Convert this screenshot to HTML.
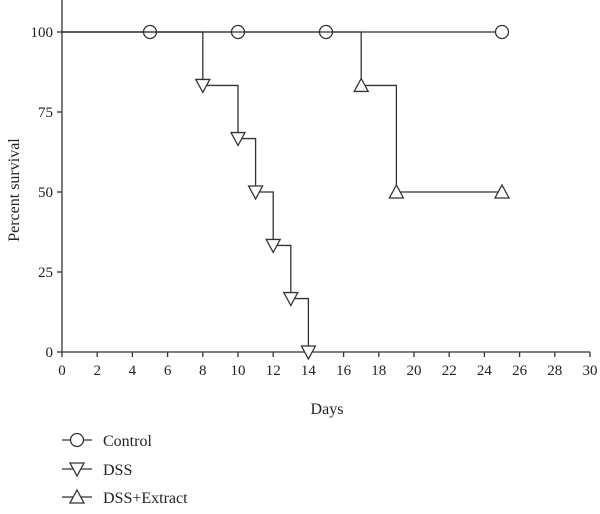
<!DOCTYPE html>
<html><head><meta charset="utf-8"><style>
body{margin:0;background:#fff}
svg text{font-family:"Liberation Serif",serif;fill:#222}
</style></head><body>
<svg width="600" height="509" viewBox="0 0 600 509">
<g id="axes"></g>
<g id="series"></g>
<g id="legend"></g>
</svg>
<script>
const xTicks=[0,2,4,6,8,10,12,14,16,18,20,22,24,26,28,30];
const yTicks=[0,25,50,75,100];
const controlDays=[0,5,10,15,25];
const controlVals=[100,100,100,100,100];
const controlMarkers=[5,10,15,25];
const dssDays=[0,8,10,11,12,13,14];
const dssVals=[100,83.3,66.7,50,33.3,16.7,0];
const extDays=[0,17,19,25];
const extVals=[100,83.3,50,50];
const seriesNames=["Control","DSS","DSS+Extract"];

const NS="http://www.w3.org/2000/svg";
const X=d=>62+d*17.6, Y=v=>352-v*3.2;
function mk(tag,attrs,parent,text){const e=document.createElementNS(NS,tag);for(const k in attrs)e.setAttribute(k,attrs[k]);if(text!==undefined)e.textContent=text;parent.appendChild(e);return e;}
const axes=document.getElementById('axes'),ser=document.getElementById('series'),leg=document.getElementById('legend');
const st={stroke:"#333","stroke-width":1.3,fill:"none"};
let a=mk('line',Object.assign({x1:62,y1:0,x2:62,y2:352},st),axes);


a=mk('line',Object.assign({x1:62,y1:352,x2:590,y2:352},st),axes);


xTicks.forEach(t=>{
 let l=mk('line',Object.assign({x1:X(t),y1:352,x2:X(t),y2:357},st),axes);
 
 
 let tx=mk('text',{x:X(t),y:375,"text-anchor":"middle","font-size":15},axes,String(t));
 
 
});
yTicks.forEach(t=>{
 let l=mk('line',Object.assign({x1:57,y1:Y(t),x2:62,y2:Y(t)},st),axes);
 
 
 let tx=mk('text',{x:53,y:Y(t)+5,"text-anchor":"end","font-size":15},axes,String(t));
 
 
});
let xt=mk('text',{x:327,y:414,"text-anchor":"middle","font-size":16},axes,"Days");


let yt=mk('text',{x:0,y:0,"text-anchor":"middle","font-size":16,transform:"translate(19,190) rotate(-90)"},axes,"Percent survival");



function marker(type,cx,cy,parent){
 const s={stroke:"#333","stroke-width":1.3,fill:"#fff"};let e;
 if(type==0)e=mk('circle',Object.assign({cx,cy,r:6.5},s),parent);
 else if(type==1)e=mk('polygon',Object.assign({points:`${cx-7},${cy-6} ${cx+7},${cy-6} ${cx},${cy+7}`},s),parent);
 else e=mk('polygon',Object.assign({points:`${cx-7},${cy+6} ${cx+7},${cy+6} ${cx},${cy-7}`},s),parent);
 return e;
}
function stepPath(days,vals){let d=`M${X(days[0])},${Y(vals[0])}`;for(let i=1;i<days.length;i++){d+=` H${X(days[i])} V${Y(vals[i])}`;}return d;}
let p=mk('path',Object.assign({d:stepPath(controlDays,controlVals)},st),ser);


controlMarkers.forEach(d=>{let m=marker(0,X(d),Y(100),ser);
 
 });
p=mk('path',Object.assign({d:stepPath(dssDays,dssVals)},st),ser);


for(let i=1;i<dssDays.length;i++){let m=marker(1,X(dssDays[i]),Y(dssVals[i]),ser);
 
 }
p=mk('path',Object.assign({d:stepPath(extDays,extVals)},st),ser);


for(let i=1;i<extDays.length;i++){let m=marker(2,X(extDays[i]),Y(extVals[i]),ser);
 
 }

const legY=[440,469,497];
seriesNames.forEach((n,i)=>{
 const g=mk('g',{},leg);
 
 
 mk('line',Object.assign({x1:62,y1:legY[i],x2:92,y2:legY[i]},st),g);
 marker(i,77,legY[i],g);
 mk('text',{x:103,y:legY[i]+6,"font-size":16},g,n);
});
</script>
</body></html>
